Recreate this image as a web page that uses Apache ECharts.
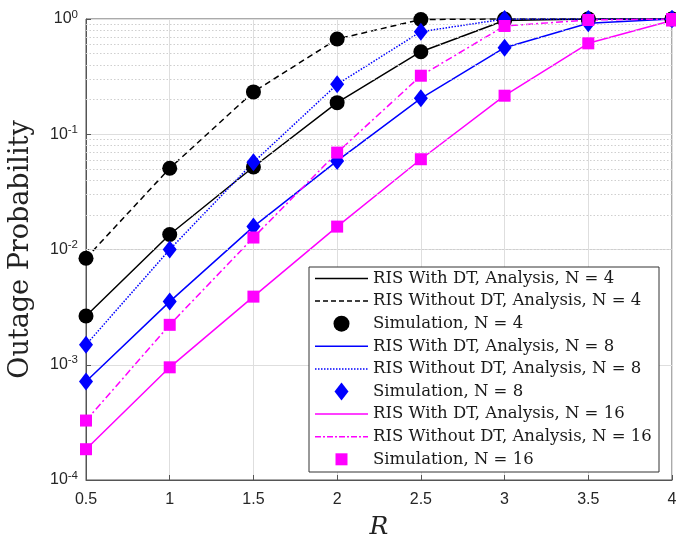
<!DOCTYPE html>
<html>
<head>
<meta charset="utf-8">
<script src="https://cdn.jsdelivr.net/npm/echarts@6/dist/echarts.min.js"></script>
<style>
html, body { margin: 0; padding: 0; background: #fff; }
#chart { width: 676px; height: 538px; }
</style>
</head>
<body>
<div id="chart"></div>
<script>
// rate R on the x axis
var rValues = [0.5, 1, 1.5, 2, 2.5, 3, 3.5, 4];
// outage probability
var withDT4    = [2.65e-3, 1.35e-2, 5.2e-2, 0.188, 0.52, 0.97, 1, 1];
var withoutDT4 = [8.4e-3, 5.07e-2, 0.233, 0.67, 0.99, 1, 1, 1];
var withDT8    = [7.15e-4, 3.53e-3, 1.58e-2, 5.87e-2, 0.205, 0.564, 0.92, 1];
var withoutDT8 = [1.49e-3, 1.0e-2, 5.71e-2, 0.271, 0.776, 1, 1, 1];
var withDT16    = [1.85e-4, 9.5e-4, 3.9e-3, 1.58e-2, 6.07e-2, 0.216, 0.615, 0.97];
var withoutDT16 = [3.28e-4, 2.22e-3, 1.27e-2, 6.93e-2, 0.322, 0.87, 0.98, 1];
var yTicks = [1e-4, 1e-3, 1e-2, 1e-1, 1];

var legendNames = [
    'RIS With DT, Analysis, N = 4',
    'RIS Without DT, Analysis, N = 4',
    'Simulation, N = 4',
    'RIS With DT, Analysis, N = 8',
    'RIS Without DT, Analysis, N = 8',
    'Simulation, N = 8',
    'RIS With DT, Analysis, N = 16',
    'RIS Without DT, Analysis, N = 16',
    'Simulation, N = 16'
];

var BLACK = '#000000', BLUE = '#0000ff', MAGENTA = '#ff00ff';
var SERIF = '"DejaVu Serif", serif';
var SANS = '"Liberation Sans", Arial, sans-serif';

function pairs(ys) {
    return ys.map(function (y, i) { return [rValues[i], y]; });
}

// minor grid lines at 2..9 x each decade
var minorLines = [];
for (var d = 0; d < yTicks.length - 1; d++) {
    for (var k = 2; k <= 9; k++) minorLines.push({ yAxis: yTicks[d] * k });
}

function lineSeries(name, ys, color, dash) {
    return {
        name: name, type: 'line', data: pairs(ys), symbol: 'none',
        lineStyle: { color: color, width: 1.5, type: dash || 'solid' },
        z: 3, silent: true
    };
}
function simSeries(name, a, b, color, symbol, size) {
    return {
        name: name, type: 'scatter', data: pairs(a).concat(pairs(b)),
        symbol: symbol, symbolSize: size, clip: false,
        itemStyle: { color: color, opacity: 1 }, z: 5, silent: true
    };
}

var series = [
    {
        name: 'minor', type: 'line', data: [], silent: true, z: 1,
        markLine: {
            silent: true, symbol: 'none', label: { show: false },
            lineStyle: { color: '#cfcfcf', type: [1.5, 2], width: 1 },
            data: minorLines, animation: false
        }
    },
    lineSeries(legendNames[0], withDT4, BLACK),
    lineSeries(legendNames[1], withoutDT4, BLACK, [6, 4]),
    simSeries(legendNames[2], withDT4, withoutDT4, BLACK, 'circle', 15),
    lineSeries(legendNames[3], withDT8, BLUE),
    lineSeries(legendNames[4], withoutDT8, BLUE, [1.5, 1.5]),
    simSeries(legendNames[5], withDT8, withoutDT8, BLUE, 'diamond', [14, 18]),
    lineSeries(legendNames[6], withDT16, MAGENTA),
    lineSeries(legendNames[7], withoutDT16, MAGENTA, [7, 3, 2, 3]),
    simSeries(legendNames[8], withDT16, withoutDT16, MAGENTA, 'rect', 12)
];

// hand-made legend box, MATLAB style
var legStyle = [
    { color: BLACK, dash: null }, { color: BLACK, dash: [5, 3] }, { color: BLACK, mark: 'circle' },
    { color: BLUE, dash: null }, { color: BLUE, dash: [1.5, 1.5] }, { color: BLUE, mark: 'diamond' },
    { color: MAGENTA, dash: null }, { color: MAGENTA, dash: [6, 2, 2, 2] }, { color: MAGENTA, mark: 'rect' }
];
var lx = 309, ly = 267, lw = 350, lh = 205, row0 = 278.5, rowGap = 22.6;
var legendEls = [{
    type: 'rect', shape: { x: lx, y: ly, width: lw, height: lh },
    style: { fill: '#fff', stroke: '#333', lineWidth: 1 }, z: 100
}];
legStyle.forEach(function (s, i) {
    var cy = row0 + i * rowGap;
    if (s.mark === 'circle') {
        legendEls.push({ type: 'circle', shape: { cx: 341.5, cy: cy, r: 8 }, style: { fill: s.color }, z: 101 });
    } else if (s.mark === 'diamond') {
        legendEls.push({ type: 'polygon', shape: { points: [[341.5, cy - 9], [348.5, cy], [341.5, cy + 9], [334.5, cy]] }, style: { fill: s.color }, z: 101 });
    } else if (s.mark === 'rect') {
        legendEls.push({ type: 'rect', shape: { x: 335.5, y: cy - 6, width: 12, height: 12 }, style: { fill: s.color }, z: 101 });
    } else {
        legendEls.push({
            type: 'line', shape: { x1: 315, y1: cy, x2: 368, y2: cy },
            style: { stroke: s.color, lineWidth: 1.5, lineDash: s.dash }, z: 101
        });
    }
    legendEls.push({
        type: 'text', x: 373, y: cy, z: 101,
        style: { text: legendNames[i], font: '16.5px ' + SERIF, fill: '#1a1a1a', verticalAlign: 'middle' }
    });
});

var chart = echarts.init(document.getElementById('chart'));
chart.setOption({
    animation: false,
    backgroundColor: '#fff',
    grid: {
        left: 86, right: 4, top: 19, bottom: 58, outerBoundsMode: 'none', containLabel: false,
        show: true, borderColor: '#555', borderWidth: 1
    },
    xAxis: {
        type: 'value', min: 0.5, max: 4, interval: 0.5,
        name: 'R', nameLocation: 'middle', nameGap: 35,
        nameTextStyle: { fontFamily: SERIF, fontStyle: 'italic', fontSize: 25, color: '#222' },
        axisLine: { lineStyle: { color: '#555' } },
        axisTick: { inside: true, length: 5, lineStyle: { color: '#555' } },
        axisLabel: { fontFamily: SANS, fontSize: 16, color: '#262626', margin: 12 },
        splitLine: { show: true, lineStyle: { color: '#dedede', width: 1 } }
    },
    yAxis: {
        type: 'log', logBase: 10, min: 1e-4, max: 1,
        name: 'Outage Probability', nameLocation: 'middle', nameGap: 52,
        nameTextStyle: { fontFamily: SERIF, fontSize: 27, color: '#222' },
        axisLine: { lineStyle: { color: '#555' } },
        axisTick: { inside: true, length: 5, lineStyle: { color: '#555' } },
        axisLabel: {
            fontFamily: SANS, fontSize: 16, color: '#262626', margin: 8,
            formatter: function (v) { return '10{sup|' + Math.round(Math.log10(v)) + '}'; },
            rich: { sup: { fontSize: 11.5, padding: [0, 0, 9, 0], fontFamily: SANS, color: '#262626' } }
        },
        splitLine: { show: true, lineStyle: { color: '#dedede', width: 1 } }
    },
    series: series,
    graphic: legendEls
});
</script>
</body>
</html>
